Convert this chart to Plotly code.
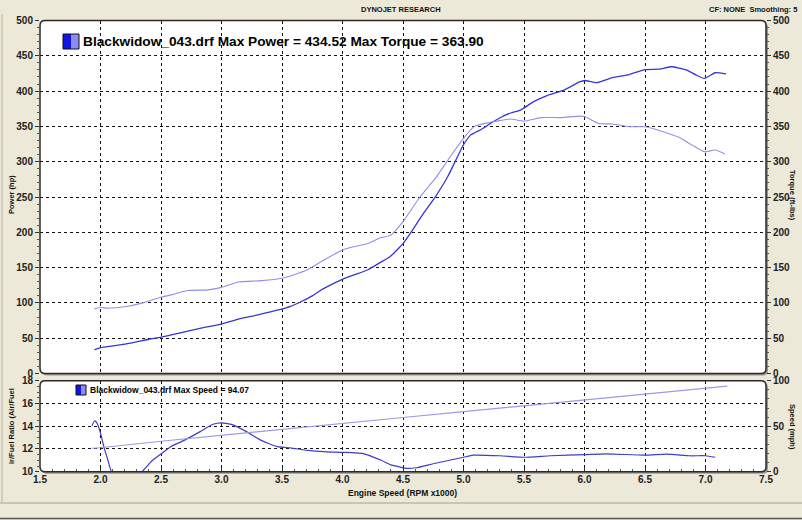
import plotly.graph_objects as go

# ---------------- data ----------------
power_rpm = [1.95, 2.00, 2.10, 2.25, 2.40, 2.50, 2.62, 2.72, 2.85, 3.00, 3.14, 3.30, 3.47, 3.57, 3.66,
             3.75, 3.82, 3.92, 4.02, 4.12, 4.21, 4.31, 4.39, 4.45, 4.50, 4.57, 4.67, 4.77, 4.87, 4.95,
             5.00, 5.06, 5.15, 5.23, 5.31, 5.39, 5.47, 5.58, 5.69, 5.83, 5.96, 6.00, 6.10, 6.23, 6.37,
             6.50, 6.62, 6.72, 6.84, 6.92, 6.99, 7.08, 7.17]
power_hp = [33.4, 36.5, 39.0, 43.0, 48.5, 51.5, 56.0, 60.0, 65.0, 70.0, 77.0, 83.0, 90.0, 95.0, 102.0,
            110.0, 118.0, 127.0, 135.0, 141.0, 147.0, 157.0, 165.0, 175.0, 184.0, 201.0, 227.0, 251.0, 279.0, 307.0,
            324.0, 338.0, 346.0, 355.0, 363.0, 369.0, 373.0, 385.0, 393.5, 401.5, 413.0, 415.0, 412.0, 419.0, 423.5,
            430.5, 431.0, 434.5, 430.0, 423.0, 418.0, 426.0, 424.5]

torque_rpm = [1.95, 2.00, 2.06, 2.20, 2.35, 2.50, 2.62, 2.72, 2.89, 3.00, 3.14, 3.33, 3.50, 3.60, 3.71,
              3.85, 4.00, 4.10, 4.21, 4.31, 4.40, 4.50, 4.64, 4.77, 4.89, 5.00, 5.09, 5.20, 5.31, 5.39,
              5.50, 5.64, 5.80, 5.96, 6.00, 6.12, 6.23, 6.37, 6.50, 6.67, 6.78, 6.89, 6.99, 7.08, 7.16]
torque_ftlb = [91.5, 93.4, 92.5, 94.5, 100.0, 108.0, 113.0, 117.5, 118.5, 122.0, 129.5, 131.5, 135.0, 140.0, 147.0,
               161.0, 175.0, 180.0, 184.0, 192.0, 196.0, 215.0, 250.0, 277.0, 307.0, 333.0, 350.0, 355.0, 358.5, 360.5,
               357.5, 362.5, 362.5, 364.5, 364.0, 354.0, 353.5, 349.5, 349.5, 341.5, 334.5, 323.5, 314.0, 316.5, 311.0]

afr_rpm = [1.93, 1.95, 1.97, 2.00, 2.03, 2.06, 2.09, 2.15, 2.25, 2.34, 2.42, 2.50, 2.58, 2.70, 2.82,
           2.93, 3.00, 3.10, 3.21, 3.32, 3.46, 3.57, 3.71, 3.87, 4.00, 4.18, 4.32, 4.40, 4.48, 4.53,
           4.61, 4.75, 5.00, 5.08, 5.30, 5.50, 5.72, 6.00, 6.18, 6.50, 6.68, 6.87, 7.00, 7.08]
afr = [14.03, 14.46, 14.3, 13.4, 12.1, 11.07, 10.05, 10.0, 10.0, 10.0, 10.9, 11.56, 12.2, 12.8, 13.5,
       14.17, 14.3, 14.1, 13.5, 12.8, 12.2, 12.1, 11.87, 11.75, 11.7, 11.57, 11.0, 10.6, 10.4, 10.29,
       10.35, 10.7, 11.27, 11.45, 11.4, 11.27, 11.4, 11.5, 11.57, 11.45, 11.55, 11.4, 11.4, 11.27]

speed_rpm = [1.93, 2.0, 2.5, 3.0, 3.5, 4.0, 4.5, 5.0, 5.5, 6.0, 6.5, 7.0, 7.18]
speed_mph = [25.8, 26.4, 33.5, 40.2, 46.8, 53.2, 59.6, 66.0, 72.4, 78.8, 85.2, 91.6, 94.07]

x_ticks = [1.5, 2.0, 2.5, 3.0, 3.5, 4.0, 4.5, 5.0, 5.5, 6.0, 6.5, 7.0, 7.5]

# ---------------- layout geometry (pixels) ----------------
W, H = 802, 520
PX0, PX1 = 40, 766
TOP_Y0, TOP_Y1 = 20.5, 373.5
BOT_Y0, BOT_Y1 = 380.7, 471.7


def fx(px):
    return px / W


def fy(py):
    return 1 - py / H


FONT = "Liberation Sans"
BG = "#ECE9D8"

fig = go.Figure()
fig.add_trace(go.Scatter(x=torque_rpm, y=torque_ftlb, mode="lines", xaxis="x", yaxis="y2",
                         line=dict(color="#9090ec", width=1.1, shape="spline", smoothing=0.5),
                         showlegend=False))
fig.add_trace(go.Scatter(x=power_rpm, y=power_hp, mode="lines", xaxis="x", yaxis="y",
                         line=dict(color="#3636d6", width=1.3, shape="spline", smoothing=0.5),
                         showlegend=False))
fig.add_trace(go.Scatter(x=speed_rpm, y=speed_mph, mode="lines", xaxis="x3", yaxis="y4",
                         line=dict(color="#9a9ae6", width=1.1), showlegend=False))
fig.add_trace(go.Scatter(x=afr_rpm, y=afr, mode="lines", xaxis="x3", yaxis="y3",
                         line=dict(color="#3d3dc8", width=1.2, shape="spline", smoothing=0.5),
                         showlegend=False))

tickfont = dict(family=FONT, size=10, color="#222", weight="bold")
grid = dict(showgrid=True, gridcolor="#111", griddash="dot", gridwidth=1)
xdom = [fx(PX0), fx(PX1)]

fig.update_layout(
    width=W, height=H,
    margin=dict(l=0, r=0, t=0, b=0, pad=0, autoexpand=False),
    paper_bgcolor=BG, plot_bgcolor="rgba(0,0,0,0)",
    showlegend=False,
    xaxis=dict(domain=xdom, anchor="y", range=[1.5, 7.5], tickvals=x_ticks, showticklabels=False,
               ticks="", zeroline=False, showline=False, automargin=False, **grid),
    yaxis=dict(domain=[fy(TOP_Y1), fy(TOP_Y0)], anchor="x", range=[0, 500], dtick=50, tick0=0,
               ticks="outside", ticklen=4, tickcolor="#333", tickfont=tickfont, automargin=False,
               minor=dict(dtick=10, ticks="outside", ticklen=2, tickcolor="#555", showgrid=False),
               zeroline=False, showline=False, **grid),
    yaxis2=dict(overlaying="y", side="right", anchor="x", range=[0, 500], dtick=50, tick0=0,
                ticks="outside", ticklen=4, tickcolor="#333", tickfont=tickfont, automargin=False,
                minor=dict(dtick=10, ticks="outside", ticklen=2, tickcolor="#555", showgrid=False),
                showgrid=False, zeroline=False, showline=False),
    xaxis3=dict(domain=xdom, anchor="y3", range=[1.5, 7.5], tickvals=x_ticks, tickformat=".1f",
                ticks="inside", ticklen=4, tickcolor="#333", tickfont=tickfont, automargin=False,
                minor=dict(dtick=0.1, tick0=1.5, ticks="inside", ticklen=3, tickcolor="#555", showgrid=False),
                zeroline=False, showline=False, **grid),
    yaxis3=dict(domain=[fy(BOT_Y1), fy(BOT_Y0)], anchor="x3", range=[10, 18], dtick=2, tick0=10,
                ticks="outside", ticklen=4, tickcolor="#333", tickfont=tickfont, automargin=False,
                minor=dict(dtick=0.5, ticks="outside", ticklen=2, tickcolor="#555", showgrid=False),
                zeroline=False, showline=False, **grid),
    yaxis4=dict(overlaying="y3", side="right", anchor="x3", range=[0, 100], tickvals=[0, 50, 100],
                ticks="outside", ticklen=4, tickcolor="#333", tickfont=tickfont, automargin=False,
                minor=dict(dtick=10, ticks="outside", ticklen=2, tickcolor="#555", showgrid=False),
                showgrid=False, zeroline=False, showline=False),
)


def rounded(px0, py0, px1, py1, r=5):
    x0, x1 = fx(px0), fx(px1)
    y0, y1 = fy(py1), fy(py0)
    rx, ry = r / W, r / H
    return (f"M {x0+rx},{y1} L {x1-rx},{y1} Q {x1},{y1} {x1},{y1-ry} "
            f"L {x1},{y0+ry} Q {x1},{y0} {x1-rx},{y0} L {x0+rx},{y0} Q {x0},{y0} {x0},{y0+ry} "
            f"L {x0},{y1-ry} Q {x0},{y1} {x0+rx},{y1} Z")


shapes = []
for (a, b) in [(TOP_Y0, TOP_Y1), (BOT_Y0, BOT_Y1)]:
    shapes.append(dict(type="path", path=rounded(PX0 + 2, a + 2, PX1 + 2, b + 2), xref="paper", yref="paper",
                       fillcolor="#9a988c", line=dict(width=0), layer="below"))
    shapes.append(dict(type="path", path=rounded(PX0, a, PX1, b), xref="paper", yref="paper",
                       fillcolor="white", line=dict(width=0), layer="below"))
    shapes.append(dict(type="path", path=rounded(PX0, a, PX1, b), xref="paper", yref="paper",
                       fillcolor="rgba(0,0,0,0)", line=dict(color="#2a2a2a", width=1.5), layer="above"))


def swatch(px0, py0, px1, py1):
    mid = (px0 + px1) / 2
    return [
        dict(type="rect", xref="paper", yref="paper", x0=fx(px0), x1=fx(mid), y0=fy(py1), y1=fy(py0),
             fillcolor="#1414e6", line=dict(width=0)),
        dict(type="rect", xref="paper", yref="paper", x0=fx(mid), x1=fx(px1), y0=fy(py1), y1=fy(py0),
             fillcolor="#8c8cf2", line=dict(width=0)),
        dict(type="rect", xref="paper", yref="paper", x0=fx(px0), x1=fx(px1), y0=fy(py1), y1=fy(py0),
             fillcolor="rgba(0,0,0,0)", line=dict(color="#111", width=1)),
    ]


shapes += swatch(63, 34, 79, 49)
shapes += swatch(76, 385, 86, 395)
shapes.append(dict(type="line", xref="paper", yref="paper", x0=0, x1=1, y0=fy(503), y1=fy(503),
                   line=dict(color="#bdb9a6", width=1.5)))
shapes.append(dict(type="line", xref="paper", yref="paper", x0=0, x1=1, y0=fy(518.5), y1=fy(518.5),
                   line=dict(color="#555", width=1.5)))
shapes.append(dict(type="line", xref="paper", yref="paper", x0=fx(2), x1=fx(2), y0=fy(503), y1=fy(14),
                   line=dict(color="#c9c5b2", width=1.5)))
fig.update_layout(shapes=shapes)


def ann(text, px, py, size, angle=0, xanchor="center", color="#111"):
    return dict(text=f"<b>{text}</b>", x=fx(px), y=fy(py), xref="paper", yref="paper",
                showarrow=False, textangle=angle, xanchor=xanchor, yanchor="middle",
                font=dict(family=FONT, size=size, color=color))


fig.update_layout(annotations=[
    ann("DYNOJET RESEARCH", 401, 9, 7.5),
    ann("CF: NONE  Smoothing: 5", 799, 9, 7.5, xanchor="right"),
    ann("Power (hp)", 11, 195, 7.5, angle=-90),
    ann("Torque (ft-lbs)", 793, 195, 7.5, angle=90),
    ann("ir/Fuel Ratio (Air/Fuel", 11, 426, 7.5, angle=-90),
    ann("Speed (mph)", 793, 427, 7.5, angle=90),
    ann("Engine Speed (RPM x1000)", 402, 493, 8.5),
    ann("Blackwidow_043.drf Max Power = 434.52 Max Torque = 363.90", 81, 41.5, 13.7, xanchor="left", color="#000"),
    ann("Blackwidow_043.drf Max Speed = 94.07", 88, 390, 8.5, xanchor="left", color="#000"),
])

fig.write_html("out.html", config={"displayModeBar": False},
               post_script="document.body.style.margin='0px';document.body.style.overflow='hidden';")
